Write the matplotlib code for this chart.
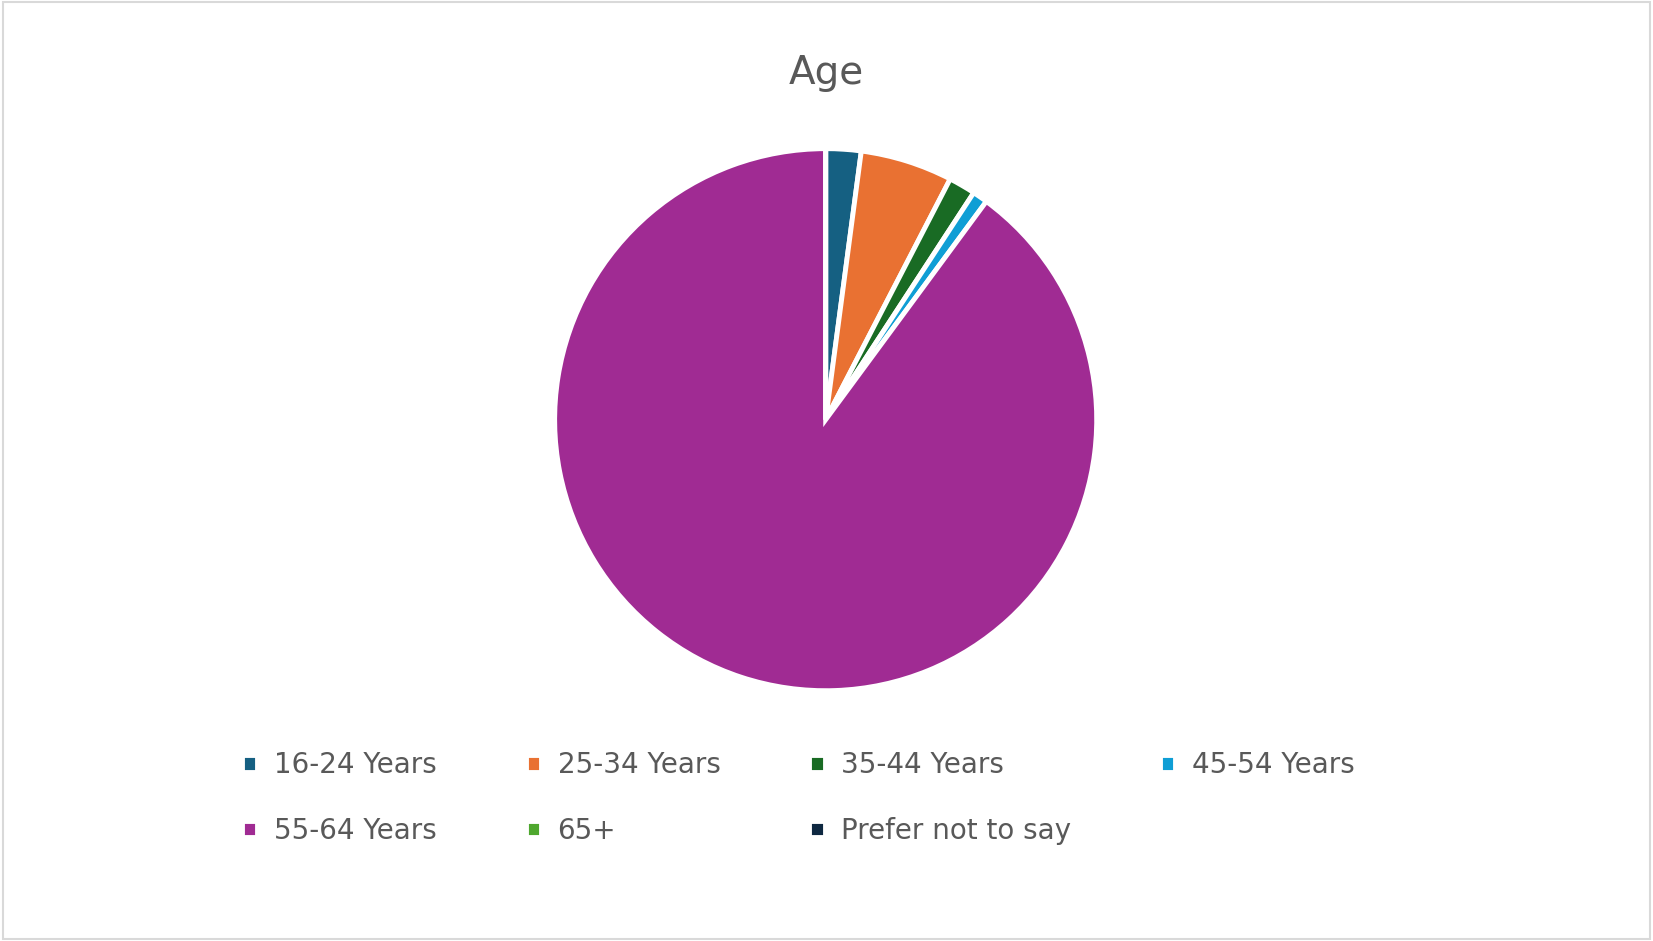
import matplotlib
matplotlib.use("Agg")
import matplotlib.pyplot as plt
from matplotlib.patches import Rectangle

categories = ["16-24 Years", "25-34 Years", "35-44 Years", "45-54 Years",
              "55-64 Years", "65+", "Prefer not to say"]
values = [2.1, 5.5, 1.6, 0.9, 89.9, 0.0, 0.0]
colors = ["#156082", "#E97132", "#196B24", "#0F9ED5", "#A02B93", "#4EA72E", "#0E2841"]

fig = plt.figure(figsize=(16.53, 9.41), dpi=100)
fig.patches.append(Rectangle((0.002, 0.002), 0.996, 0.996, transform=fig.transFigure,
                             fill=False, edgecolor="#D9D9D9", linewidth=1.5))
h = 0.72
w = h * 941 / 1653
ax = fig.add_axes([0.5 - w / 2 - 0.0005, 0.554 - h / 2, w, h])
wedges, _ = ax.pie(values, colors=colors, startangle=90, counterclock=False,
                   wedgeprops=dict(edgecolor="white", linewidth=3.5))
ax.set_aspect("equal")
fig.text(0.5, 0.922, "Age", ha="center", va="center", fontsize=28, color="#595959")
order = [0, 4, 1, 5, 2, 6, 3]
fig.legend([wedges[i] for i in order], [categories[i] for i in order],
           loc="center", bbox_to_anchor=(0.483, 0.152), ncol=4,
           frameon=False, fontsize=20, labelcolor="#595959", handlelength=0.55,
           handleheight=0.55, columnspacing=3.2, labelspacing=1.35, handletextpad=0.6)
fig.savefig("out.png", dpi=100)
